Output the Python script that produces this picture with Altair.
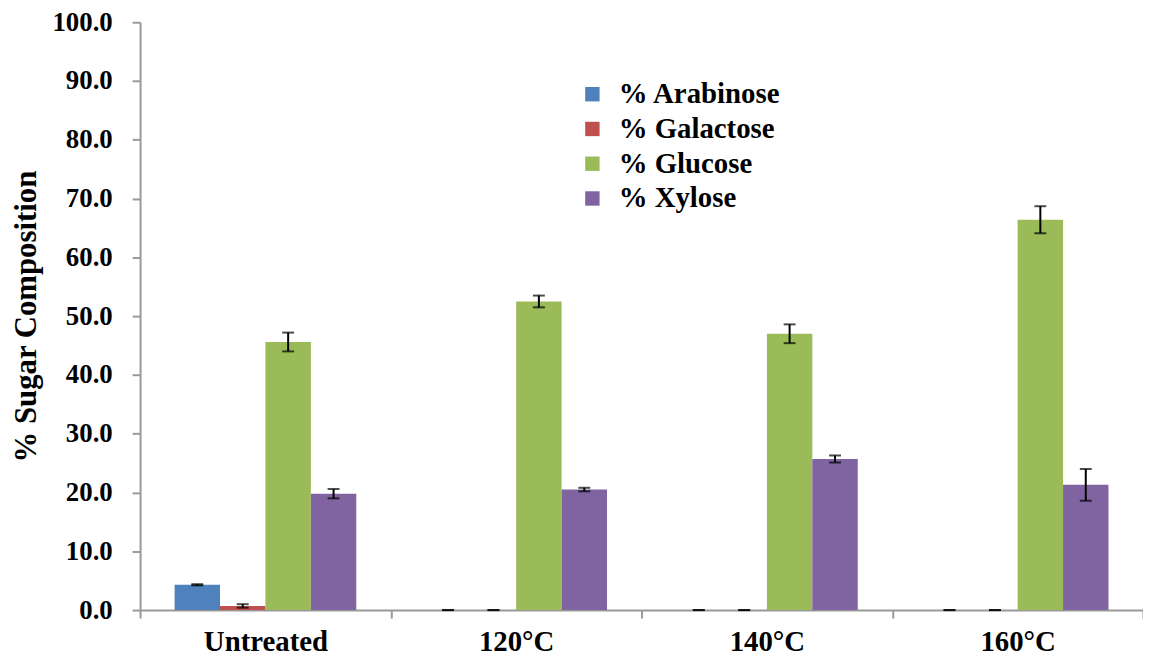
import altair as alt
import pandas as pd

categories = ["Untreated", "120°C", "140°C", "160°C"]
series = ["% Arabinose", "% Galactose", "% Glucose", "% Xylose"]
colors = ["#4F81BD", "#C0504D", "#9BBB59", "#8064A2"]

arabinose = [4.3, 0.0, 0.0, 0.0]
galactose = [0.7, 0.0, 0.0, 0.0]
glucose = [45.6, 52.5, 47.0, 66.4]
xylose = [19.8, 20.5, 25.7, 21.3]

arabinose_err = [0.1, 0.0, 0.0, 0.0]
galactose_err = [0.3, 0.0, 0.0, 0.0]
glucose_err = [1.6, 1.0, 1.6, 2.3]
xylose_err = [0.8, 0.3, 0.6, 2.7]

rows = []
for s, vals, errs in zip(series,
                         [arabinose, galactose, glucose, xylose],
                         [arabinose_err, galactose_err, glucose_err, xylose_err]):
    for c, v, e in zip(categories, vals, errs):
        rows.append({"cat": c, "series": s, "value": v, "lo": v - e, "hi": v + e})
df = pd.DataFrame(rows)

FONT = "Liberation Serif"

x_enc = alt.X("cat:N", sort=categories, title=None,
              scale=alt.Scale(paddingInner=0, paddingOuter=0),
              axis=alt.Axis(labelAngle=0, tickBand="extent", tickSize=8,
                            labelPadding=10, labelFontSize=29, labelFont=FONT,
                            labelFontWeight="bold", labelColor="black",
                            domainColor="#999999", tickColor="#999999",
                            domainWidth=2, tickWidth=2))
xoff = alt.XOffset("series:N", sort=series,
                   scale=alt.Scale(paddingInner=0, paddingOuter=0.76))

y_axis = alt.Axis(values=list(range(0, 101, 10)), format=".1f", tickSize=8,
                  labelPadding=20, labelFontSize=27, labelFont=FONT,
                  labelFontWeight="bold", labelColor="black",
                  domainColor="#999999", tickColor="#999999",
                  domainWidth=2, tickWidth=2, grid=False,
                  title="% Sugar Composition", titleFont=FONT,
                  titleFontSize=31, titleFontWeight="bold", titleColor="black",
                  titlePadding=10)

base = alt.Chart(df)

bars = base.mark_bar().encode(
    x=x_enc,
    xOffset=xoff,
    y=alt.Y("value:Q", scale=alt.Scale(domain=[0, 100], nice=False), axis=y_axis),
    color=alt.Color("series:N", sort=series,
                    scale=alt.Scale(domain=series, range=colors),
                    legend=alt.Legend(title=None, orient="none", legendX=441,
                                      legendY=58, symbolType="square",
                                      symbolSize=210, symbolStrokeWidth=0,
                                      labelFont=FONT, labelFontSize=29,
                                      labelFontWeight="bold", labelColor="black",
                                      labelOffset=12, rowPadding=5,
                                      labelLimit=400)),
)

rules = base.mark_rule(color="black", strokeWidth=2).encode(
    x=alt.X("cat:N", sort=categories),
    xOffset=xoff,
    y=alt.Y("lo:Q"),
    y2="hi:Q",
)
caps_lo = base.mark_tick(color="black", thickness=2, size=12).encode(
    x=alt.X("cat:N", sort=categories),
    xOffset=xoff,
    y=alt.Y("lo:Q"),
)
caps_hi = base.mark_tick(color="black", thickness=2, size=12).encode(
    x=alt.X("cat:N", sort=categories),
    xOffset=xoff,
    y=alt.Y("hi:Q"),
)

chart = alt.layer(bars, rules, caps_lo, caps_hi).properties(
    width=1010, height=592,
    autosize=alt.AutoSizeParams(type="none"),
    padding={"left": 133, "top": 12, "right": 0, "bottom": 52},
).configure(font=FONT).configure_view(stroke=None).configure_axis(
    labelFont=FONT, titleFont=FONT
)

chart.save("out.html", embed_options={"renderer": "svg", "actions": False})
